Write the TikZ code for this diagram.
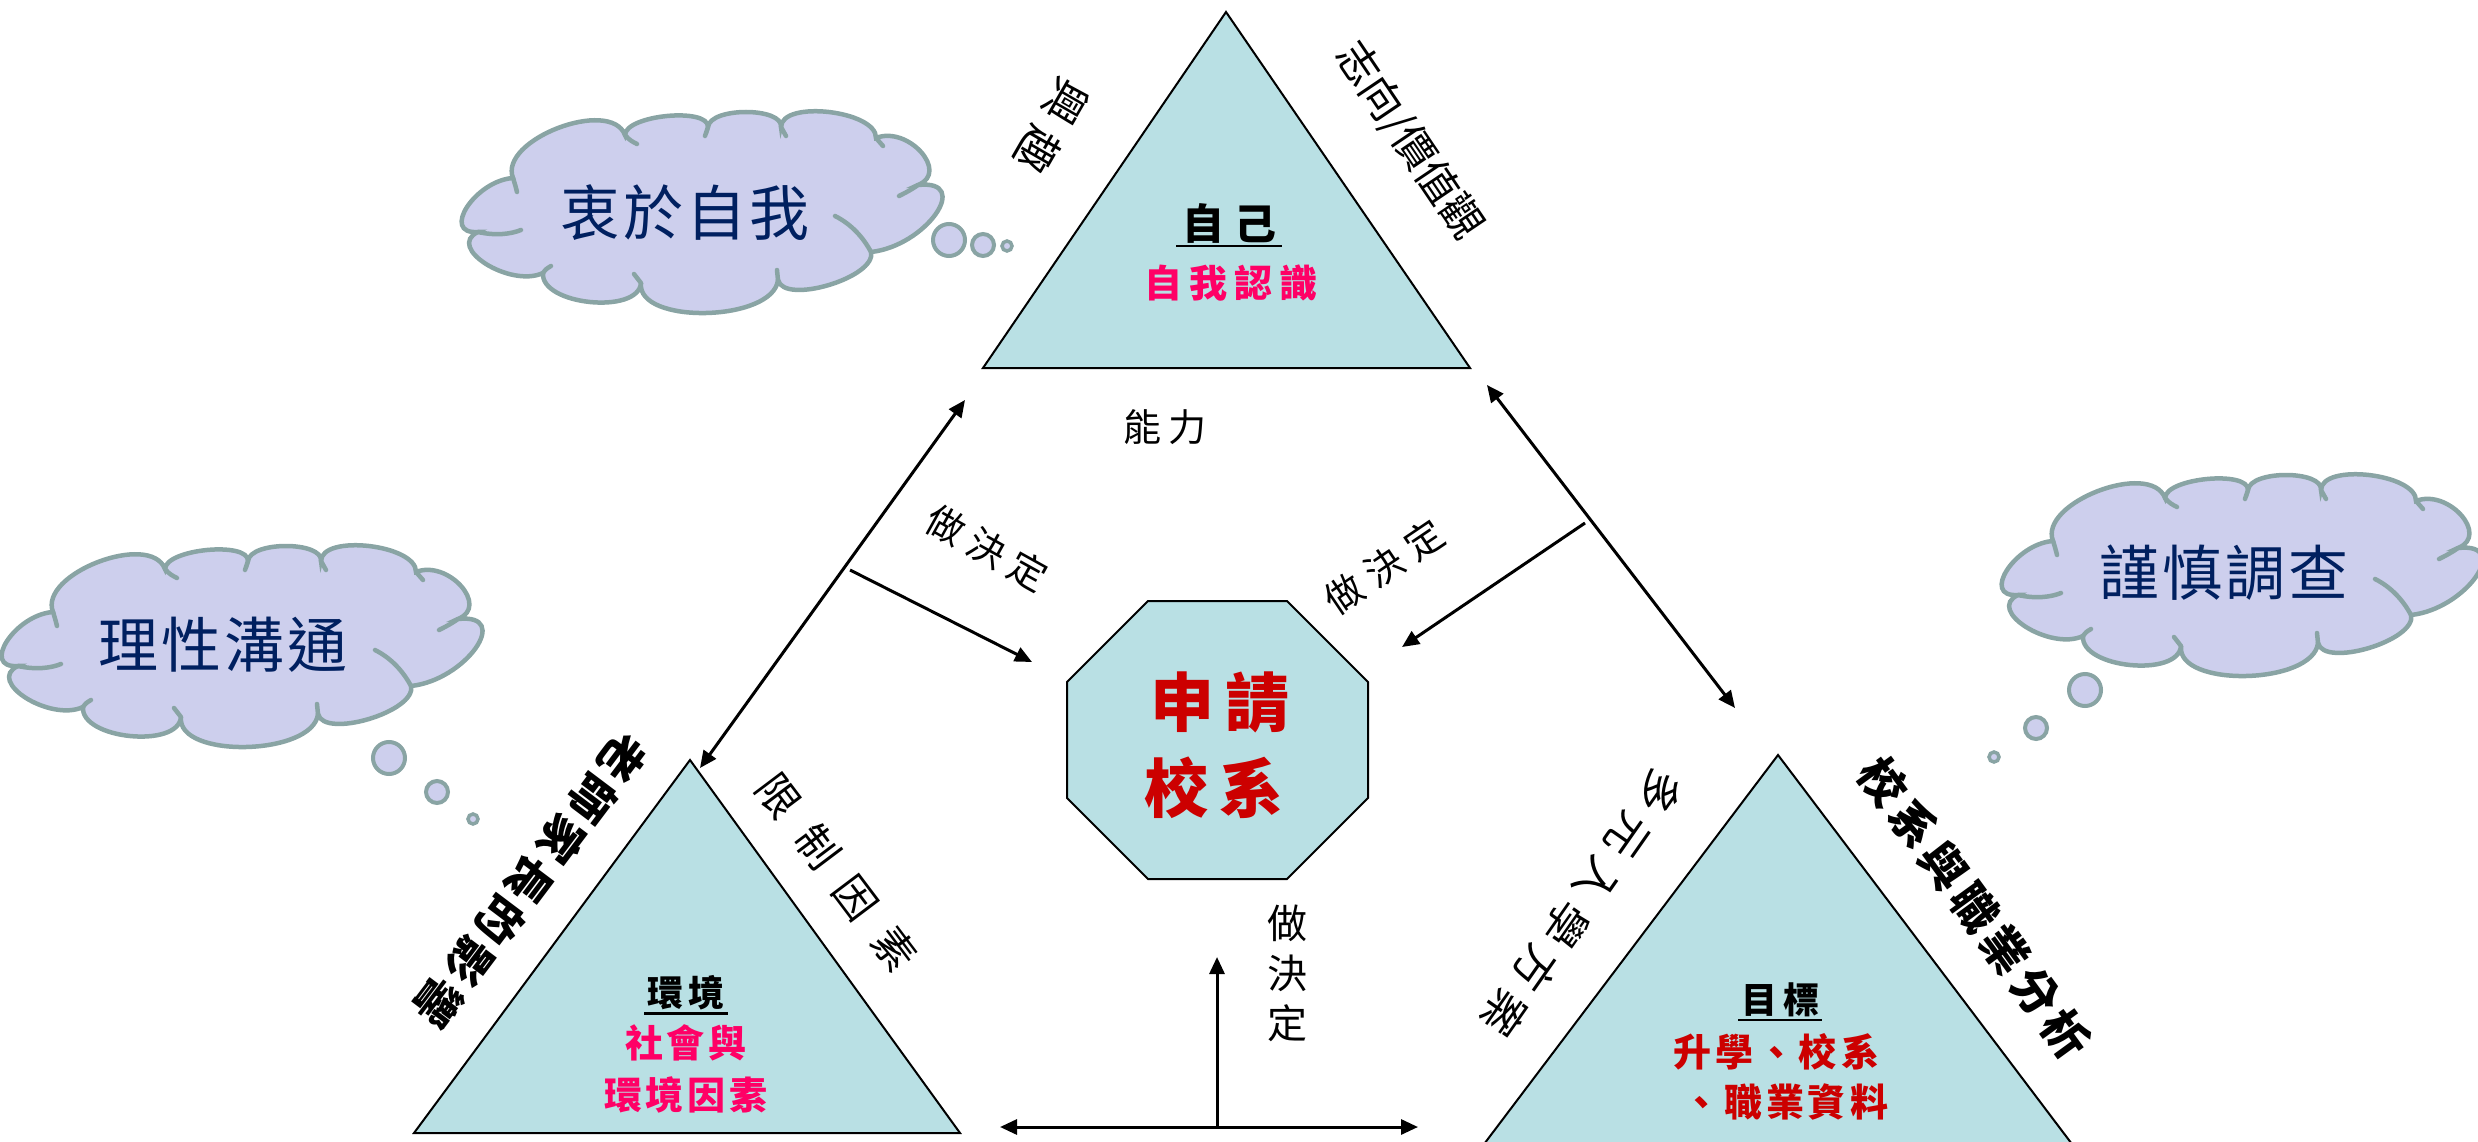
\documentclass[tikz,border=0pt]{standalone}
\usepackage{fontspec}
\setmainfont{Noto Sans CJK TC}
\usetikzlibrary{arrows.meta,calc}
\definecolor{trifill}{RGB}{185,224,228}
\definecolor{pinktxt}{RGB}{255,0,102}
\definecolor{redtxt}{RGB}{204,0,0}
\definecolor{navytxt}{RGB}{0,32,96}
\definecolor{cloudfill}{RGB}{205,207,237}
\definecolor{cloudstroke}{RGB}{137,164,164}
\newcommand\chgap[1]{\hspace{#1pt}}
\newcommand\fs[1]{\fontsize{#1}{#1}\selectfont}
\tikzset{
  tri/.style={fill=trifill, draw=black, line width=2pt, line join=miter},
  arr/.style={line width=3pt, -{Triangle[length=17pt,width=15pt]}},
  darr/.style={line width=3pt, {Triangle[length=17pt,width=15pt]}-{Triangle[length=17pt,width=15pt]}},
  lbl/.style={inner sep=0pt, outer sep=0pt},
  ul/.style={line width=2.5pt},
  cloudline/.style={draw=cloudstroke, line width=4.5pt, fill=cloudfill},
  cloudarc/.style={draw=cloudstroke, line width=4.5pt, line cap=round},
  cloudshape/.pic={
    \begin{scope}[y=1pt]
      \filldraw[cloudline] (-223,-20) .. controls (-261,-22.7) and (-226,31.3) .. (-188,34)
        .. controls (-202.7,72) and (-90.7,115) .. (-76,77)
        .. controls (-75.3,97) and (7.7,105) .. (7,85)
        .. controls (9,105) and (82,105) .. (80,85)
        .. controls (80.7,112.3) and (175.7,101.3) .. (175,74)
        .. controls (207,86.7) and (249,39.7) .. (217,27)
        .. controls (272,33) and (225,-34) .. (170,-40)
        .. controls (176,-65.3) and (83,-93.3) .. (77,-68)
        .. controls (72.3,-110) and (-64.7,-113) .. (-60,-71)
        .. controls (-62.7,-103) and (-160.7,-93) .. (-158,-61)
        .. controls (-190.7,-76.3) and (-255.7,-35.3) .. (-223,-20) -- cycle;
      \draw[cloudarc] (-223,-20) .. controls (-205,-24) and (-190,-22) .. (-180,-18);
      \draw[cloudarc] (-188,34) .. controls (-186,28) and (-185,24) .. (-184,20);
      \draw[cloudarc] (-76,77) .. controls (-72,72) and (-68,70) .. (-64,68);
      \draw[cloudarc] (7,85) .. controls (6,80) .. (4,76);
      \draw[cloudarc] (80,85) .. controls (82,80) .. (85,76);
      \draw[cloudarc] (175,74) .. controls (178,70) .. (182,66);
      \draw[cloudarc] (217,27) .. controls (210,22) and (204,19) .. (198,16);
      \draw[cloudarc] (170,-40) .. controls (162,-25) and (150,-12) .. (134,-4);
      \draw[cloudarc] (77,-68) .. controls (76,-63) .. (76,-58);
      \draw[cloudarc] (-60,-71) .. controls (-63,-66) .. (-67,-62);
      \draw[cloudarc] (-158,-61) .. controls (-155,-57) .. (-150,-54);
    \end{scope}
  }
}
\begin{document}
\begin{tikzpicture}[x=1pt,y=-1pt]
\useasboundingbox (0,0) rectangle (2478,1142);
\clip (0,0) rectangle (2478,1142);
\fill[white] (0,0) rectangle (2478,1142);

% clouds
\pic at (701,212) {cloudshape};
\pic at (241,646) {cloudshape};
\pic at (2241,575) {cloudshape};
\filldraw[cloudline, line width=4pt] (949,240) circle[radius=16pt];
\filldraw[cloudline, line width=4pt] (983,245) circle[radius=11pt];
\filldraw[cloudline, line width=3.5pt] (1007,246) circle[radius=5pt];
\filldraw[cloudline, line width=4pt] (389,758) circle[radius=16pt];
\filldraw[cloudline, line width=4pt] (437,792) circle[radius=11pt];
\filldraw[cloudline, line width=3.5pt] (473,819) circle[radius=5pt];
\filldraw[cloudline, line width=4pt] (2085,690) circle[radius=16pt];
\filldraw[cloudline, line width=4pt] (2036,728) circle[radius=11pt];
\filldraw[cloudline, line width=3.5pt] (1994,757) circle[radius=5pt];

\node[lbl, text=navytxt, font=\fs{60}] (c1t) at (685,213) {衷\chgap3於\chgap3自\chgap3我};
\node[lbl, text=navytxt, font=\fs{60}] (c2t) at (223,645) {理\chgap3性\chgap3溝\chgap3通};
\node[lbl, text=navytxt, font=\fs{60}] (c3t) at (2224,573) {謹\chgap3慎\chgap3調\chgap3查};

% triangles
\coordinate (tA) at (1226,12);  \coordinate (tL) at (983,368);  \coordinate (tR) at (1470,368);
\coordinate (lA) at (690,760);  \coordinate (lL) at (414,1133); \coordinate (lR) at (960,1133);
\coordinate (rA) at (1778,755); \coordinate (rL) at (1472,1160); \coordinate (rR) at (2084,1160);
\draw[tri] (tA) -- (tR) -- (tL) -- cycle;
\draw[tri] (lA) -- (lR) -- (lL) -- cycle;
\draw[tri] (rA) -- (rR) -- (rL) -- cycle;

% octagon
\draw[tri] (1148,601) -- (1287,601) -- (1368,682) -- (1368,798) -- (1287,879)
  -- (1148,879) -- (1067,798) -- (1067,682) -- cycle;

% arrows
\coordinate (aL1) at (965,400);  \coordinate (aL2) at (700,768);
\coordinate (bL1) at (850,570);  \coordinate (bL2) at (1032,662);
\coordinate (aR1) at (1487,385); \coordinate (aR2) at (1735,708);
\coordinate (bR1) at (1585,523); \coordinate (bR2) at (1402,647);
\coordinate (aB1) at (1000,1127); \coordinate (aB2) at (1418,1127);
\coordinate (bB1) at (1217,1127); \coordinate (bB2) at (1217,957);
\draw[darr] (aL1) -- (aL2);
\draw[arr] (bL1) -- (bL2);
\draw[darr] (aR1) -- (aR2);
\draw[arr] (bR1) -- (bR2);
\draw[darr] (aB1) -- (aB2);
\draw[arr] (bB1) -- (bB2);

% top triangle texts
\node[lbl, font=\bfseries\fs{42}] (ziji) at (1229,223) {自\chgap{10}己};
\draw[ul] ([shift={(-6,3)}]ziji.south west) -- ([shift={(6,3)}]ziji.south east);
\node[lbl, text=pinktxt, font=\bfseries\fs{38}] (zwrs) at (1231,283) {自\chgap7我\chgap7認\chgap7識};
\node[lbl, font=\fs{44}, rotate=-120] (xq) at (1052,126) {興\chgap{12}趣};
\node[lbl, font=\fs{42}, rotate=-56] (zx) at (1409,141) {志向/價值觀};
\node[lbl, font=\fs{38}] (nl) at (1165,427) {能\chgap8力};

% center
\node[lbl, text=redtxt, font=\bfseries\fs{64}] (sq1) at (1220,702) {申\chgap{12}請};
\node[lbl, text=redtxt, font=\bfseries\fs{64}] (sq2) at (1214,788) {校\chgap{12}系};

% decision labels
\node[lbl, font=\fs{38}, rotate=-29] (zj1) at (987,548) {做\chgap9決\chgap9定};
\node[lbl, font=\fs{38}, rotate=34] (zj2) at (1384,567) {做\chgap{10}決\chgap{10}定};
\node[lbl, font=\fontsize{40}{50}\selectfont, align=center] (zj3) at (1287,973) {做\\決\\定};

% bottom-left triangle texts
\node[lbl, font=\bfseries\fs{36}] (hj) at (686,993) {環\chgap6境};
\draw[ul] ([shift={(-3,3)}]hj.south west) -- ([shift={(3,3)}]hj.south east);
\node[lbl, text=pinktxt, font=\bfseries\fs{38}] (shy) at (686,1043) {社\chgap4會\chgap4與};
\node[lbl, text=pinktxt, font=\bfseries\fs{38}] (hjys) at (686,1095) {環\chgap4境\chgap4因\chgap4素};
\node[lbl, font=\bfseries\fs{46}, rotate=-127] (lsjz) at (531,880) {老\chgap5師\chgap5家\chgap5長\chgap5的\chgap5影\chgap5響};
\node[lbl, font=\fs{42}, rotate=-53] (xzys) at (837,872) {限\chgap{22}制\chgap{22}因\chgap{22}素};

% bottom-right triangle texts
\node[lbl, font=\bfseries\fs{36}] (mb) at (1780,1000) {目\chgap6標};
\draw[ul] ([shift={(-3,3)}]mb.south west) -- ([shift={(3,3)}]mb.south east);
\node[lbl, text=redtxt, font=\bfseries\fs{38}] (sx) at (1776,1052) {升\chgap4學\chgap4、\chgap4校\chgap4系};
\node[lbl, text=redtxt, font=\bfseries\fs{38}] (zy) at (1785,1102) {、\chgap4職\chgap4業\chgap4資\chgap4料};
\node[lbl, font=\bfseries\fs{46}, rotate=-54] (xxyz) at (1975,908) {校\chgap6系\chgap6與\chgap6職\chgap6業\chgap6分\chgap6析};
\node[lbl, font=\fs{44}, rotate=-125] (dyrx) at (1582,903) {多\chgap{10}元\chgap{10}入\chgap{10}學\chgap{10}方\chgap{10}案};
\end{tikzpicture}
\end{document}
